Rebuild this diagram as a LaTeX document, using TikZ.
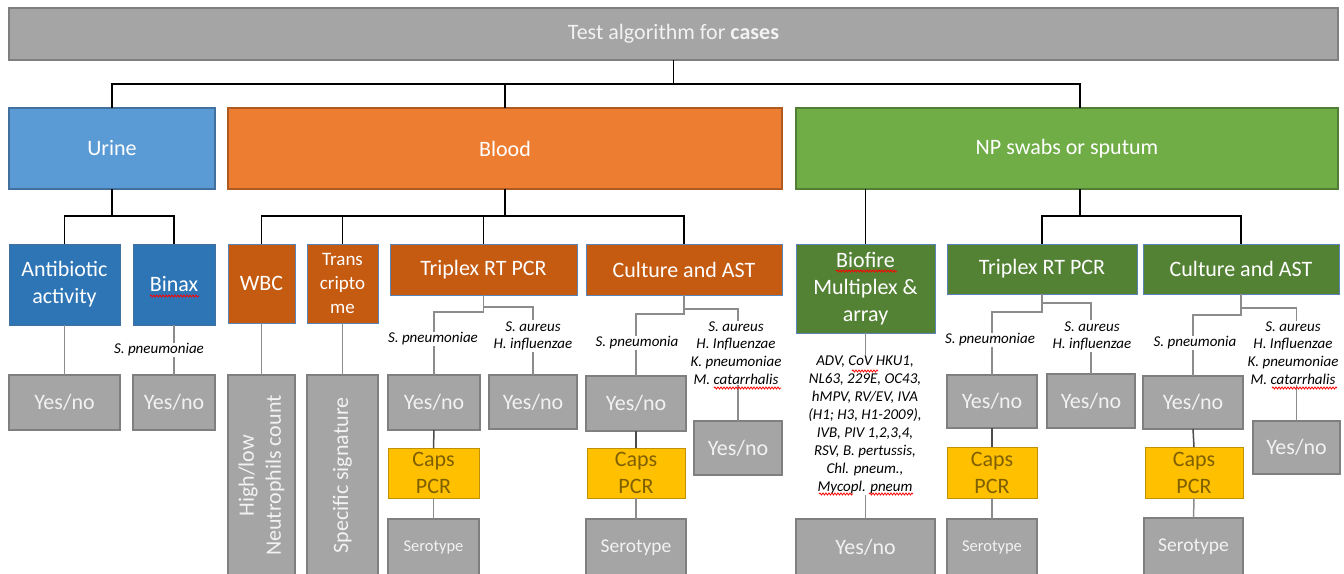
\documentclass[tikz,border=0pt]{standalone}
\usepackage{fontspec}
\setmainfont{Carlito}
\usetikzlibrary{decorations.pathmorphing}
\definecolor{grayF}{HTML}{A5A5A5}
\definecolor{grayB}{HTML}{7F7F7F}
\definecolor{txtG}{HTML}{F2F2F2}
\definecolor{urineC}{HTML}{5B9BD5}
\definecolor{urineB}{HTML}{41719C}
\definecolor{bloodC}{HTML}{ED7D31}
\definecolor{bloodB}{HTML}{AE5A21}
\definecolor{npC}{HTML}{70AD47}
\definecolor{npB}{HTML}{507E32}
\definecolor{dblue}{HTML}{2E75B6}
\definecolor{dorange}{HTML}{C55A11}
\definecolor{dgreen}{HTML}{548235}
\definecolor{edgeBlue}{HTML}{5A83B8}
\definecolor{capsC}{HTML}{FFC000}
\definecolor{capsB}{HTML}{BF9000}
\definecolor{capsT}{HTML}{7F6000}
\definecolor{lineG}{HTML}{8C8C8C}
\newcommand\bx[7]{\node[#6, minimum width={(#4)-(#2)}, minimum height={(#5)-(#3)}] (#1) at ({((#2)+(#4))/2},{((#3)+(#5))/2}) {#7};}
\tikzset{
  base/.style={draw, line width=1.5, inner sep=0, outer sep=0, align=center,
    font=\fontsize{22}{27}\selectfont, text=white},
  graybox/.style={base, fill=grayF, draw=grayB, text=txtG},
  urinebox/.style={base, fill=urineC, draw=urineB},
  bloodbox/.style={base, fill=bloodC, draw=bloodB},
  npbox/.style={base, fill=npC, draw=npB},
  bluebox/.style={base, fill=dblue, draw=urineB, line width=1},
  orbox/.style={base, fill=dorange, draw=edgeBlue, line width=1},
  grbox/.style={base, fill=dgreen, draw=edgeBlue, line width=1},
  capsbox/.style={base, fill=capsC, draw=capsB, text=capsT, line width=1},
  rottext/.style={rotate=90, align=center, text=txtG, font=\fontsize{22}{27}\selectfont},
  lbl/.style={fill=white, inner sep=1, align=center, text=black,
    font=\fontsize{15}{17.7}\selectfont\itshape},
  blk/.style={draw=black, line width=1.5},
  gln/.style={draw=lineG, line width=1.5},
  dln/.style={draw=black!70, line width=1.5},
  wavy/.style={draw=red, line width=0.8, decorate,
    decoration={snake, amplitude=1, segment length=3}}
}
\begin{document}
\begin{tikzpicture}[x=1pt, y=-1pt]
\useasboundingbox (0,0) rectangle (1344,573);
% boxes
\bx{top}{9}{8}{1338}{60}{graybox}{Test algorithm for \textbf{cases}}
\bx{urine}{9}{108}{215}{189}{urinebox}{Urine}
\bx{blood}{228}{108}{782}{189}{bloodbox}{Blood}
\bx{np}{796}{108}{1338}{189}{npbox}{NP swabs or sputum}
\bx{anti}{9}{244}{120}{325}{bluebox}{Antibiotic\\activity}
\bx{binax}{133}{244}{215}{325}{bluebox}{Binax}
\bx{wbc}{228}{244}{295}{323}{orbox}{WBC}
\bx{trans}{307}{244}{378}{323}{orbox, font=\fontsize{19}{24}\selectfont}{Trans\\cripto\\me}
\bx{tpb}{390}{244}{577}{295}{orbox}{Triplex RT PCR}
\bx{cab}{586}{244}{782}{295}{orbox}{Culture and AST}
\bx{bio}{796}{244}{935}{333}{grbox}{Biofire\\Multiplex \&\\array}
\bx{tpn}{947}{244}{1137}{294}{grbox}{Triplex RT PCR}
\bx{can}{1143}{244}{1339}{294}{grbox}{Culture and AST}
% results
\bx{ya}{9}{375}{120}{430}{graybox}{Yes/no}
\bx{yb}{133}{375}{215}{430}{graybox}{Yes/no}
\bx{hl}{228}{375}{295}{576}{graybox}{}
\bx{ss}{307}{375}{378}{576}{graybox}{}
\node[rottext] (hlt) at (hl.center) {High/low\\Neutrophils count};
\node[rottext] (sst) at (ss.center) {Specific signature};
\bx{y1}{388}{375}{480}{430}{graybox}{Yes/no}
\bx{y2}{489}{375}{577}{429}{graybox}{Yes/no}
\bx{c1}{388}{448}{479}{498}{capsbox}{Caps\\PCR}
\bx{s1}{388}{519}{479}{576}{graybox, font=\fontsize{16.5}{20}\selectfont}{Serotype}
\bx{y3}{586}{376}{686}{431}{graybox}{Yes/no}
\bx{c2}{587}{448}{685}{498}{capsbox}{Caps\\PCR}
\bx{s2}{586}{519}{686}{576}{graybox, font=\fontsize{19.5}{22}\selectfont}{Serotype}
\bx{y4}{694}{421}{782}{475}{graybox}{Yes/no}
\bx{bioy}{796}{519}{935}{576}{graybox}{Yes/no}
\bx{y5}{947}{375}{1037}{428}{graybox}{Yes/no}
\bx{y6}{1047}{374}{1135}{428}{graybox}{Yes/no}
\bx{c3}{947}{447}{1037}{498}{capsbox}{Caps\\PCR}
\bx{s3}{947}{519}{1037}{576}{graybox, font=\fontsize{16.5}{20}\selectfont}{Serotype}
\bx{y7}{1143}{376}{1243}{429}{graybox}{Yes/no}
\bx{c4}{1145}{447}{1243}{498}{capsbox}{Caps\\PCR}
\bx{s4}{1144}{518}{1243}{576}{graybox, font=\fontsize{19.5}{22}\selectfont}{Serotype}
\bx{y8}{1253}{421}{1340}{474}{graybox}{Yes/no}
% black tree connectors
\coordinate (j0) at (674,84);
\draw[blk] (top.south) -- (top.south |- j0);
\draw[blk] (urine.north) |- (j0) -| ([xshift=13pt]np.north);
\draw[blk] (blood.north) -- (blood.north |- j0);
\coordinate (ju) at (112,216);
\draw[blk] (urine.south) -- (ju);
\draw[blk] (anti.north) |- (ju) -| (binax.north);
\coordinate (jb) at (505,216);
\draw[blk] (blood.south) -- (jb);
\draw[blk] (wbc.north) |- (jb) -| (cab.north);
\draw[blk] (trans.north) -- (trans.north |- jb);
\draw[blk] (tpb.north) -- (tpb.north |- jb);
\draw[blk] (np.south -| bio.north) -- (bio.north);
\coordinate (jn) at (1080,216);
\draw[blk] ([xshift=13pt]np.south) -- (jn);
\draw[blk] (tpn.north) |- (jn) -| (can.north);
% gray connectors
\draw[gln] (anti.south) -- (ya.north);
\draw[gln] (binax.south) -- (yb.north);
\draw[gln] (wbc.south) -- (hl.north);
\draw[gln] (trans.south) -- (ss.north);
\draw[gln] (tpb.south) -- ++(0,12) -| (y2.north);
\draw[gln] (tpb.south) -- ++(0,17) -| (y1.north);
\draw[dln] (y1.south) -- (c1.north);
\draw[gln] (c1.south) -- (s1.north);
\draw[gln] (cab.south) -- ++(0,14) -| (y4.north);
\draw[gln] (cab.south) -- ++(0,19) -| (y3.north);
\draw[dln] (y3.south) -- (c2.north);
\draw[gln] (c2.south) -- (s2.north);
\draw[gln] (bio.south) -- (bioy.north);
\draw[gln] (tpn.south) -- ++(0,9) -| (y6.north);
\draw[gln] (tpn.south) -- ++(0,18) -| (y5.north);
\draw[dln] (y5.south) -- (c3.north);
\draw[gln] (c3.south) -- (s3.north);
\draw[gln] (can.south) -- ++(0,14) -| (y8.north);
\draw[gln] (can.south) -- ++(0,21) -| (y7.north);
\draw[dln] (y7.south) -- (c4.north);
\draw[gln] (c4.south) -- (s4.north);
% labels
\node[lbl] (lb0) at (159,350) {S. pneumoniae};
\node[lbl] (lb1) at (433,339) {S. pneumoniae};
\node[lbl] (lb2) at (533,336) {S. aureus\\H. influenzae};
\node[lbl] (lb3) at (637,343) {S. pneumonia};
\node[lbl] (lb4) at (736,353) {S. aureus\\H. Influenzae\\K. pneumoniae\\M. catarrhalis};
\node[lbl, font=\fontsize{15}{18}\selectfont\itshape] (lbb) at (865,425)
  {ADV, CoV HKU1,\\NL63, 229E, OC43,\\hMPV, RV/EV, IVA\\(H1; H3, H1-2009),\\IVB, PIV 1,2,3,4,\\RSV, B. pertussis,\\Chl. pneum.,\\Mycopl. pneum};
\node[lbl] (lb5) at (990,340) {S. pneumoniae};
\node[lbl] (lb6) at (1092,336) {S. aureus\\H. influenzae};
\node[lbl] (lb7) at (1195,343) {S. pneumonia};
\node[lbl] (lb8) at (1293,353) {S. aureus\\H. Influenzae\\K. pneumoniae\\M. catarrhalis};
% spell-check squiggles
\draw[wavy] (150,296) -- (199,296);
\draw[wavy] (836,271) -- (897,271);
\draw[wavy] (852,371) -- (878,371);
\draw[wavy] (819,494) -- (853,494);
\draw[wavy] (869,494) -- (913,494);
\draw[wavy] (714,388) -- (781,388);
\draw[wavy] (1272,388) -- (1337,388);
\end{tikzpicture}
\end{document}
